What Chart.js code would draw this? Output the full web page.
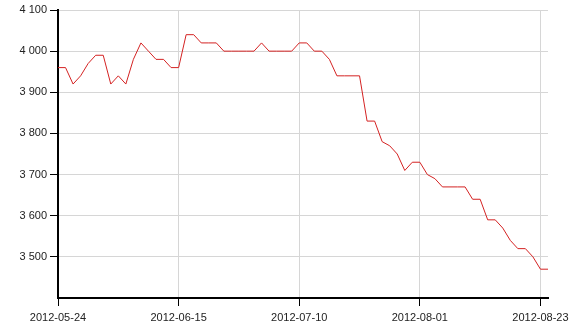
<!DOCTYPE html>
<html>
<head>
<meta charset="utf-8">
<script src="https://cdn.jsdelivr.net/npm/chart.js@4"></script>
<style>
  html, body { margin: 0; padding: 0; background: #fff; }
  #wrap { width: 577px; height: 333px; }
</style>
</head>
<body>
<div id="wrap"><canvas id="chart"></canvas></div>
<script>
// daily values, one per trading day
const values = [
  3960, 3960, 3920, 3940, 3970, 3990, 3990, 3920, 3940, 3920,
  3980, 4020, 4000, 3980, 3980, 3960, 3960, 4040, 4040, 4020,
  4020, 4020, 4000, 4000, 4000, 4000, 4000, 4020, 4000, 4000,
  4000, 4000, 4020, 4020, 4000, 4000, 3980, 3940, 3940, 3940,
  3940, 3830, 3830, 3780, 3770, 3750, 3710, 3730, 3730, 3700,
  3690, 3670, 3670, 3670, 3670, 3640, 3640, 3590, 3590, 3570,
  3540, 3520, 3520, 3500, 3470, 3470
];
// date labels shown every 16 points
const tickDates = ['2012-05-24', '2012-06-15', '2012-07-10', '2012-08-01', '2012-08-23'];
const tickStep = 16;
const yTicks = [3500, 3600, 3700, 3800, 3900, 4000, 4100];

const fmt = v => String(v).replace(/\B(?=(\d{3})+(?!\d))/g, ' ');

new Chart(document.getElementById('chart'), {
  type: 'line',
  data: {
    datasets: [{
      data: values.map((v, i) => ({ x: i, y: v })),
      borderColor: '#d42222',
      borderWidth: 1,
      pointRadius: 0,
      tension: 0,
      fill: false
    }]
  },
  options: {
    responsive: true,
    maintainAspectRatio: false,
    animation: false,
    layout: { padding: { top: 10, right: 29, left: 0, bottom: 0 } },
    plugins: { legend: { display: false }, tooltip: { enabled: false } },
    scales: {
      x: {
        type: 'linear',
        min: 0,
        max: values.length - 1,
        afterBuildTicks: axis => {
          axis.ticks = tickDates.map((d, i) => ({ value: i * tickStep }));
        },
        afterFit: axis => { axis.height = 35; },
        ticks: {
          color: '#222',
          font: { family: 'Liberation Sans, Arial', size: 11 },
          padding: 5,
          maxRotation: 0,
          callback: v => tickDates[v / tickStep]
        },
        grid: { color: '#d6d6d6', tickColor: '#000', tickLength: 8 },
        border: { color: '#000', width: 2 }
      },
      y: {
        min: 3400,
        max: 4100,
        afterBuildTicks: axis => {
          axis.ticks = yTicks.map(v => ({ value: v }));
        },
        afterFit: axis => { axis.width = 58; },
        ticks: {
          color: '#222',
          font: { family: 'Liberation Sans, Arial', size: 11 },
          padding: 3,
          callback: v => fmt(v)
        },
        grid: { color: '#d6d6d6', tickColor: '#000', tickLength: 8 },
        border: { color: '#000', width: 2 }
      }
    }
  }
});
</script>
</body>
</html>
